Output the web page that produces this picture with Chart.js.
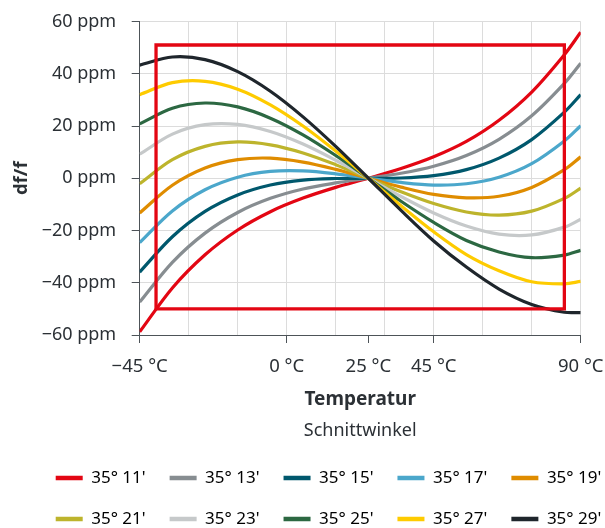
<!DOCTYPE html>
<html>
<head>
<meta charset="utf-8">
<script src="https://cdn.jsdelivr.net/npm/chart.js@4.4.1/dist/chart.umd.min.js"></script>
<style>
  html, body { margin: 0; padding: 0; background: #ffffff; }
  #wrap { width: 605px; height: 528px; }
</style>
</head>
<body>
<div id="wrap"><canvas id="c" width="605" height="528"></canvas></div>
<script>
// ---- data ----
const temps = [-45, -35, -25, -15, -5, 5, 15, 25, 35, 45, 55, 65, 75, 85, 90];
const angleLabels = ["35° 11'", "35° 13'", "35° 15'", "35° 17'", "35° 19'", "35° 21'", "35° 23'", "35° 25'", "35° 27'", "35° 29'"];
const s3511 = [-58.8, -42.0, -29.3, -19.8, -12.8, -7.6, -3.5, 0, 3.7, 8.2, 14.1, 22.2, 33.0, 47.3, 55.9];
const s3513 = [-47.4, -32.2, -21.0, -13.1, -7.7, -4.1, -1.8, 0, 1.9, 4.6, 8.7, 14.9, 23.9, 36.3, 44.0];
const s3515 = [-35.9, -22.4, -12.7, -6.4, -2.6, -0.7, -0.1, 0, 0.1, 1.0, 3.3, 7.7, 14.8, 25.3, 32.0];
const s3517 = [-24.6, -12.5, -4.4, 0.4, 2.6, 2.8, 1.7, 0, -1.6, -2.6, -2.1, 0.4, 5.6, 14.3, 20.1];
const s3519 = [-13.3, -2.7, 3.9, 7.1, 7.7, 6.2, 3.4, 0, -3.4, -6.2, -7.5, -6.9, -3.5, 3.3, 8.2];
const s3521 = [-2.1, 7.1, 12.2, 13.9, 12.8, 9.7, 5.2, 0, -5.2, -9.7, -12.9, -14.1, -12.6, -7.7, -3.8];
const s3523 = [9.2, 16.9, 20.5, 20.6, 17.9, 13.1, 6.9, 0, -7.0, -13.3, -18.3, -21.4, -21.7, -18.7, -15.7];
const s3525 = [20.8, 26.8, 28.8, 27.3, 23.0, 16.6, 8.7, 0, -8.8, -16.9, -23.8, -28.2, -30.4, -29.4, -27.6];
const s3527 = [32.0, 36.6, 37.1, 34.1, 28.1, 20.0, 10.4, 0, -10.5, -20.5, -29.2, -35.4, -39.6, -40.4, -39.5];
const s3529 = [43.3, 46.4, 45.4, 40.8, 33.3, 23.5, 12.2, 0, -12.3, -24.0, -34.0, -42.4, -48.3, -51.3, -51.4];
const seriesList = [s3511, s3513, s3515, s3517, s3519, s3521, s3523, s3525, s3527, s3529];
const seriesColors = ['#e30613', '#878d91', '#00586d', '#4ba7cb', '#df8c00', '#bdb42c', '#c6c9ca', '#2c6842', '#fecb00', '#1f262c'];

// tolerance window (red rectangle)
const rectTemps = [-40, -40, 85, 85, -40];
const rectPpm = [-50, 51, 51, -50, -50];

// axis ticks
const yTickValues = [-60, -40, -20, 0, 20, 40, 60];
const xGridValues = [-45, -30, -15, 0, 15, 25, 30, 45, 60, 75, 90];
const xLabelValues = [-45, 0, 25, 45, 90];
const xLabelTexts = ['\u221245 °C', '0 °C', '25 °C', '45 °C', '90 °C'];

// ---- styling ----
const FONT = "'Noto Sans', 'DejaVu Sans', sans-serif";
const textColor = '#2b3035';
const gridColor = '#dcdcdc';
const axisColor = '#4d5358';

Chart.defaults.font.family = FONT;
Chart.defaults.color = textColor;

const datasets = seriesList.map((vals, i) => ({
  label: angleLabels[i],
  data: temps.map((t, j) => ({ x: t, y: vals[j] })),
  borderColor: seriesColors[i],
  backgroundColor: seriesColors[i],
  borderWidth: 3.2,
  pointRadius: 0,
  tension: 0.33,
  fill: false,
  order: 10 - i
}));
datasets.push({
  label: 'window',
  data: rectTemps.map((t, j) => ({ x: t, y: rectPpm[j] })),
  borderColor: '#e30613',
  backgroundColor: '#e30613',
  borderWidth: 3.3,
  pointRadius: 0,
  tension: 0,
  fill: false,
  borderJoinStyle: 'miter',
  borderCapStyle: 'square',
  order: 0
});

const legendShift = {
  id: 'legendShift',
  afterLayout(chart) {
    const l = chart.legend;
    if (!l) return;
    const dx = 26, dy = 3.8;
    l.left += dx; l.right += dx;
    l.top += dy; l.bottom += dy;
  }
};

new Chart(document.getElementById('c'), {
  type: 'line',
  data: { datasets },
  plugins: [legendShift],
  options: {
    responsive: false,
    devicePixelRatio: 1,
    animation: false,
    layout: { padding: { top: 21.5, right: 0, bottom: -5.7, left: 0 } },
    plugins: {
      tooltip: { enabled: false },
      title: {
        display: true,
        text: 'Schnittwinkel',
        position: 'bottom',
        fullSize: false,
        weight: 500,
        color: textColor,
        font: { size: 18, weight: 'normal', family: FONT },
        padding: { top: 8.7, bottom: 0 }
      },
      legend: {
        display: true,
        position: 'bottom',
        align: 'center',
        labels: {
          boxWidth: 27,
          boxHeight: 4.5,
          padding: 24,
          color: textColor,
          font: { size: 17, family: FONT },
          generateLabels: (chart) => chart.data.datasets.slice(0, seriesList.length).map((ds, i) => ({
            text: ds.label,
            fillStyle: ds.borderColor,
            strokeStyle: ds.borderColor,
            lineWidth: 0,
            hidden: false,
            datasetIndex: i
          }))
        }
      }
    },
    scales: {
      x: {
        type: 'linear',
        position: 'bottom',
        min: -45,
        max: 90,
        afterBuildTicks: (s) => { s.ticks = xGridValues.map(v => ({ value: v })); },
        afterFit: (s) => { s.height = 76.4; s.paddingRight = 24.3; },
        ticks: {
          autoSkip: false,
          maxRotation: 0,
          padding: 13,
          color: textColor,
          font: { size: 18.5 },
          callback: (v) => { const i = xLabelValues.indexOf(v); return i >= 0 ? xLabelTexts[i] : ''; }
        },
        grid: {
          color: (ctx) => (ctx.tick && ctx.tick.value === 25) ? 'rgba(0,0,0,0)' : gridColor,
          lineWidth: 1,
          drawTicks: true,
          tickLength: 8,
          tickWidth: 1,
          tickColor: (ctx) => (ctx.tick && xLabelValues.includes(ctx.tick.value)) ? axisColor : 'rgba(0,0,0,0)'
        },
        border: { display: true, color: axisColor, width: 1 },
        title: {
          display: true,
          text: 'Temperatur',
          color: textColor,
          font: { size: 19, weight: 'bold' },
          padding: { top: 10, bottom: 0 }
        }
      },
      y: {
        type: 'linear',
        min: -60,
        max: 60,
        afterBuildTicks: (s) => { s.ticks = yTickValues.map(v => ({ value: v })); },
        afterFit: (s) => { s.width = 139.7; s.paddingTop = 0; s.paddingBottom = 0; },
        ticks: {
          padding: 15.5,
          color: textColor,
          font: { size: 18 },
          callback: (v) => (v < 0 ? '\u2212' + (-v) : String(v)) + ' ppm'
        },
        grid: {
          color: gridColor,
          lineWidth: 1,
          drawTicks: true,
          tickLength: 8,
          tickWidth: 1,
          tickColor: axisColor
        },
        border: { display: true, color: axisColor, width: 1 },
        title: {
          display: true,
          text: 'df/f',
          color: textColor,
          font: { size: 18.5, weight: 'bold' },
          padding: { top: 10.3, bottom: 10.7 }
        }
      }
    }
  }
});
</script>
</body>
</html>
